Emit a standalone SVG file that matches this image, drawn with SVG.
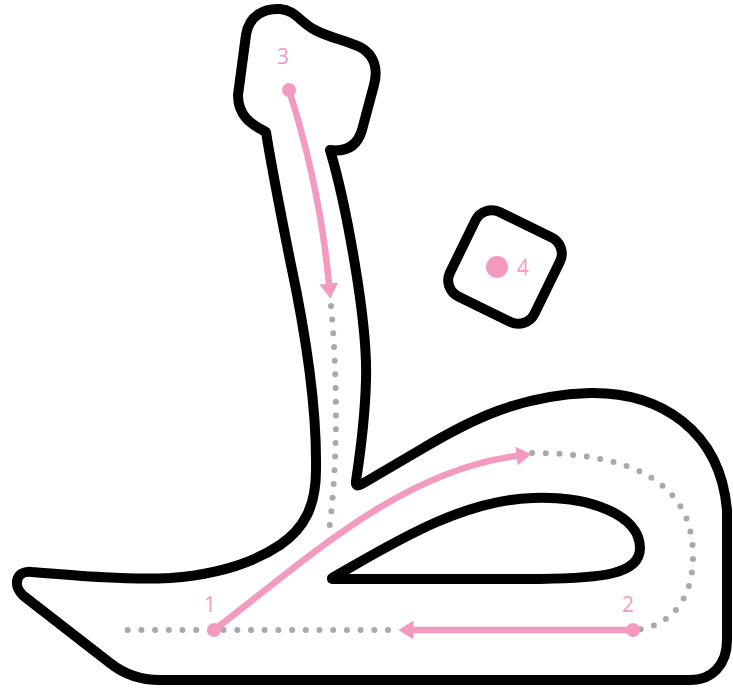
<svg xmlns="http://www.w3.org/2000/svg" width="733" height="692" viewBox="0 0 733 692">
<style>
.outline{fill:none;stroke:#000;stroke-width:10;stroke-linejoin:round;stroke-linecap:round}
.stroke{fill:none;stroke:#F49AC1;stroke-width:6.5}
.dots{fill:none;stroke:#A7A9AC;stroke-width:6;stroke-linecap:round;stroke-dasharray:0 13.7}
.dot{fill:#F49AC1}
.lbl{fill:#F49AC1;font-family:"Open Sans","Liberation Sans",sans-serif;font-size:21px;text-anchor:middle}
</style>
<defs>
<marker id="arrow" markerUnits="userSpaceOnUse" markerWidth="16" markerHeight="20" viewBox="0 -10 16 20" refX="0.5" refY="0" orient="auto">
<path d="M0,-9.5 L15,0 L0,9.5 Z" fill="#F49AC1"/>
</marker>
</defs>
<g id="letter">
<path class="outline" d="M266,132 C250,124 238,115 238,95 L246,35 C249,15 265,8 280,9 C295,10 300,22 315,30 C330,38 345,40 360,47 C375,55 378,70 374,85 L362,130 C357,147 345,152 330,150 C345,200 368,320 366,380 C365,420 360,455 356,481 Q355,488 362,484 L420,450 C470,420 520,395 590,393 C660,392 720,430 727,510 L727,640 C727,665 712,680 690,680 L160,680 C140,680 125,675 110,663 L25,597 C12,587 15,570 32,572 C80,576 130,580 170,578 C210,575 250,565 280,545 C305,528 316,505 316,470 C317,410 305,330 290,260 C282,220 272,170 266,132 Z"/>
<path class="outline" d="M332,578 C390,545 460,500 533,498 C590,496 640,515 640,548 C640,575 600,578 540,579 L332,579 Z"/>
</g>
<g id="connectors">
<path class="dots" d="M331,306 C338,380 338,470 328,538"/>
<path class="dots" d="M388,630 L127,630"/>
<path class="dots" d="M532,453 C628,453 693,480 693,556 C693,600 670,628 633,630"/>
<path class="stroke" d="M289,90 C305,140 322,210 329,284" marker-end="url(#arrow)"/>
<path class="stroke" d="M214,630 C300,565 400,470 517,456" marker-end="url(#arrow)"/>
<path class="stroke" d="M633,630 L413,630" marker-end="url(#arrow)"/>
</g>
<g id="node-1">
<circle class="dot" cx="214" cy="630" r="7"/>
<text class="lbl" x="210" y="612">1</text>
</g>
<g id="node-2">
<circle class="dot" cx="633" cy="630" r="7"/>
<text class="lbl" x="628" y="612">2</text>
</g>
<g id="node-3">
<circle class="dot" cx="289" cy="90" r="7"/>
<text class="lbl" x="283" y="64">3</text>
</g>
<g id="node-4">
<rect class="outline" x="-47" y="-47" width="94" height="94" rx="18" transform="translate(505,267) rotate(26)"/>
<circle class="dot" cx="497" cy="267" r="11"/>
<text class="lbl" x="523" y="275">4</text>
</g>
</svg>
